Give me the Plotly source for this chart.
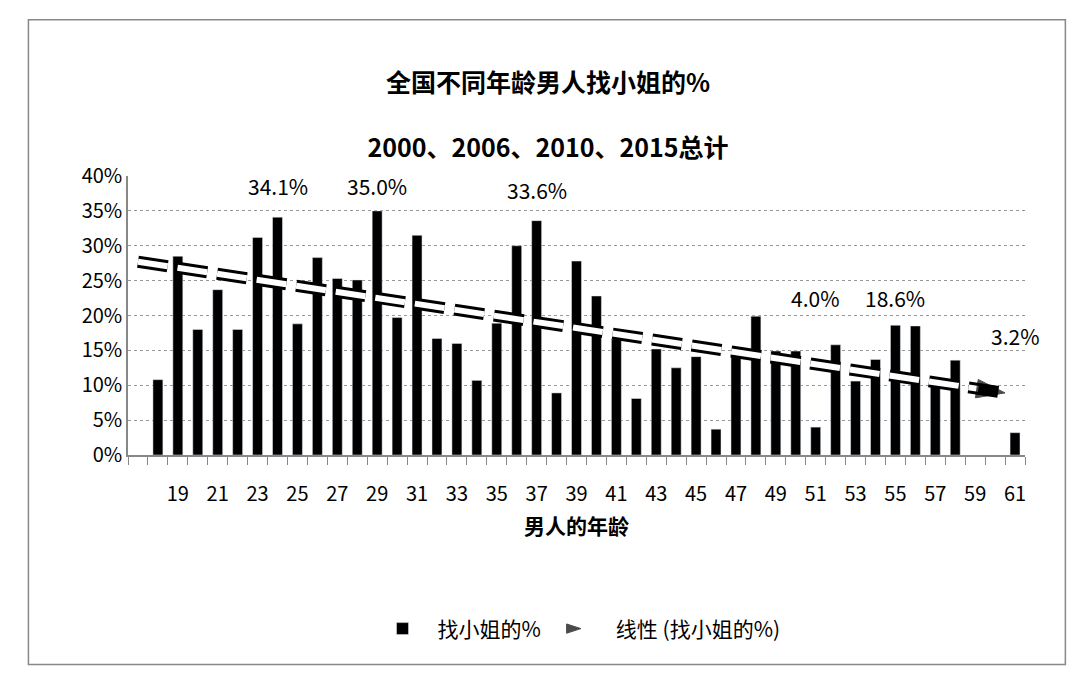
import plotly.graph_objects as go

ages = list(range(17, 62))
values = [None, 10.8, 28.5, 18.0, 23.7, 18.0, 31.2, 34.1, 18.8, 28.3, 25.3, 25.1, 35.0, 19.7,
          31.5, 16.7, 16.0, 10.7, 18.9, 30.0, 33.6, 8.9, 27.8, 22.8, 16.6, 8.1, 15.2, 12.5,
          14.1, 3.7, 14.8, 19.9, 14.9, 14.9, 4.0, 15.8, 10.6, 13.7, 18.6, 18.5, 10.4, 13.6,
          None, None, 3.2]
label_ages = [24, 29, 37, 51, 55, 61]
label_text = ["34.1%", "35.0%", "33.6%", "4.0%", "18.6%", "3.2%"]
label_y = [38.5, 38.5, 38.0, 22.5, 22.5, 17.0]

# linear trend (start / end)
trend_x = [17, 60.5]
trend_y = [27.7, 8.9]

font = "Noto Sans CJK SC, Noto Sans, sans-serif"

fig = go.Figure()
fig.add_trace(go.Bar(x=ages, y=values, width=0.5, marker_color="black",
                     name="找小姐的%"))
fig.add_trace(go.Scatter(x=trend_x, y=trend_y, mode="lines", showlegend=False,
                         line=dict(color="black", width=12, dash="30px,10px")))
fig.add_trace(go.Scatter(x=trend_x, y=trend_y, mode="lines+markers", name="线性 (找小姐的%)",
                         line=dict(color="white", width=6, dash="30px,10px"),
                         marker=dict(symbol="arrow", angleref="previous", size=[0, 30],
                                     color="black", line=dict(color="black", width=1))))

for a, t, y in zip(label_ages, label_text, label_y):
    fig.add_annotation(x=a, y=y, text=t, showarrow=False,
                       font=dict(size=21, color="black"))

fig.add_shape(type="rect", xref="paper", yref="paper", x0=-0.111, x1=1.045,
              y0=-0.751, y1=1.56, line=dict(color="#888", width=1.5))

fig.update_layout(
    width=1080, height=675, paper_bgcolor="white", plot_bgcolor="white",
    margin=dict(l=120, r=63, t=168, b=228),
    font=dict(family=font, size=20, color="black"),
    title=dict(text="<b>全国不同年龄男人找小姐的%</b><br><br><b>2000、2006、2010、2015总计</b>",
               x=0.5, y=0.875, xanchor="center", yanchor="middle",
               font=dict(size=25)),
    legend=dict(orientation="h", x=0.5, xanchor="center", y=-0.55, yanchor="top",
                font=dict(size=21), itemwidth=60),
    xaxis=dict(range=[16.5, 61.5], tickvals=list(range(19, 62, 2)), ticks="",
               showline=True, linecolor="#888", linewidth=1.5, showgrid=False,
               zeroline=False, ticklabelstandoff=20,
               minor=dict(tick0=16.5, dtick=1, ticks="outside", ticklen=8,
                          tickcolor="#888", showgrid=False),
               title=dict(text="<b>男人的年龄</b>", font=dict(size=21), standoff=14)),
    yaxis=dict(range=[0, 40], dtick=5, ticksuffix="%", showline=True, linecolor="#888",
               linewidth=1.5, gridcolor="#999", griddash="dot", zeroline=False),
)

fig.write_html("out.html")
